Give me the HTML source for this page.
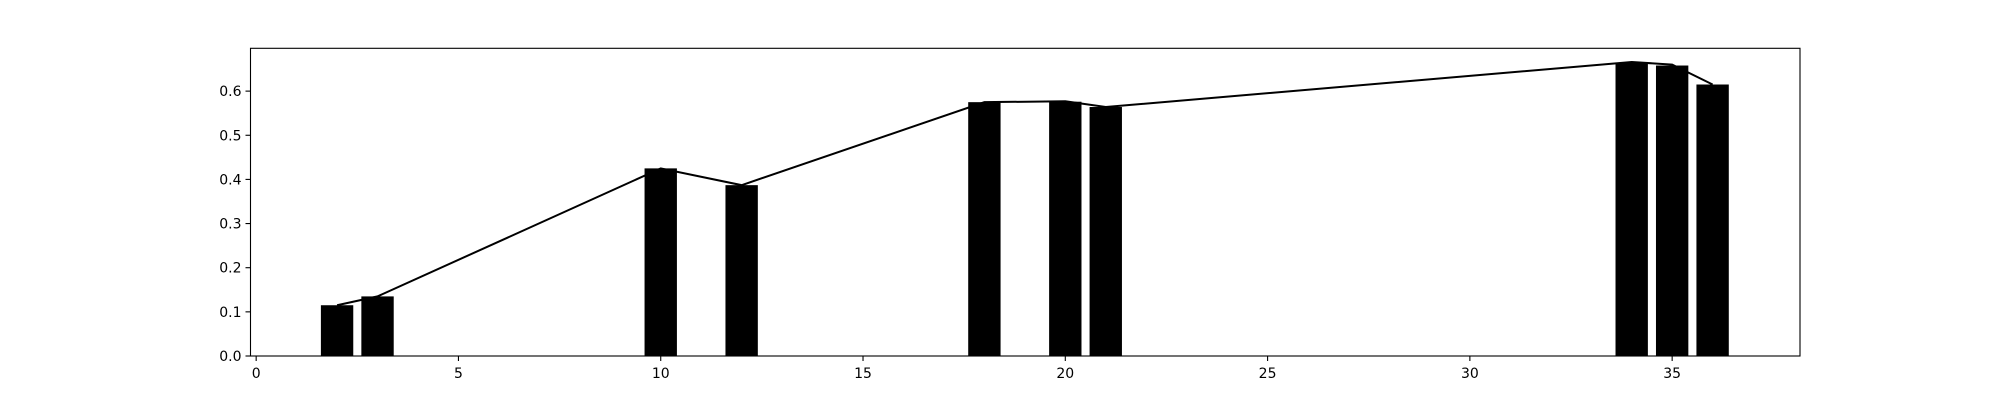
<!DOCTYPE html>
<html><head><meta charset="utf-8"><style>body{margin:0;background:#fff}svg{display:block}text{font-family:"DejaVu Sans","Liberation Sans",sans-serif;font-size:14px;fill:#000}</style></head>
<body>
<svg id="chart" width="2000" height="400" xmlns="http://www.w3.org/2000/svg"></svg>
<script>
const xValues = [2, 3, 10, 12, 18, 20, 21, 34, 35, 36];
const barValues = [0.115, 0.135, 0.425, 0.387, 0.575, 0.576, 0.564, 0.664, 0.658, 0.615];
const lineValues = [0.115, 0.135, 0.425, 0.387, 0.575, 0.577, 0.564, 0.666, 0.660, 0.615];
const xTicks = [0, 5, 10, 15, 20, 25, 30, 35];
const yTicks = [0.0, 0.1, 0.2, 0.3, 0.4, 0.5, 0.6];
const barWidth = 0.8;

const L=250.5,R=1800,T=48.3,B=356;
const x0=-0.14,x1=38.16,y0=0,y1=0.697;
const sx=v=>L+(v-x0)/(x1-x0)*(R-L);
const sy=v=>B-(v-y0)/(y1-y0)*(B-T);
const svg=document.getElementById('chart');
const NS='http://www.w3.org/2000/svg';
function mk(tag,attrs){const e=document.createElementNS(NS,tag);for(const k in attrs)e.setAttribute(k,attrs[k]);svg.appendChild(e);return e;}

xValues.forEach((xv,i)=>{
  const r=mk('rect',{x:sx(xv-barWidth/2),y:sy(barValues[i]),width:sx(xv+barWidth/2)-sx(xv-barWidth/2),height:sy(0)-sy(barValues[i]),fill:'#000'});
  
  
});
const pl=mk('polyline',{points:xValues.map((xv,i)=>sx(xv)+','+sy(lineValues[i])).join(' '),fill:'none',stroke:'#000','stroke-width':2});



const frame=mk('rect',{x:L,y:T,width:R-L,height:B-T,fill:'none',stroke:'#000','stroke-width':1.1});



xTicks.forEach(t=>{
  const X=sx(t);
  const ln=mk('line',{x1:X,x2:X,y1:B,y2:B+5,stroke:'#000','stroke-width':1.1});
  
  
  const tx=mk('text',{x:X,y:B+22,'text-anchor':'middle'});
  tx.textContent=String(t);
  
  
});
yTicks.forEach(t=>{
  const Y=sy(t);
  const ln=mk('line',{x1:L-5,x2:L,y1:Y,y2:Y,stroke:'#000','stroke-width':1.1});
  
  
  const tx=mk('text',{x:L-9,y:Y+5,'text-anchor':'end'});
  tx.textContent=t.toFixed(1);
  
  
});
</script>
</body></html>
